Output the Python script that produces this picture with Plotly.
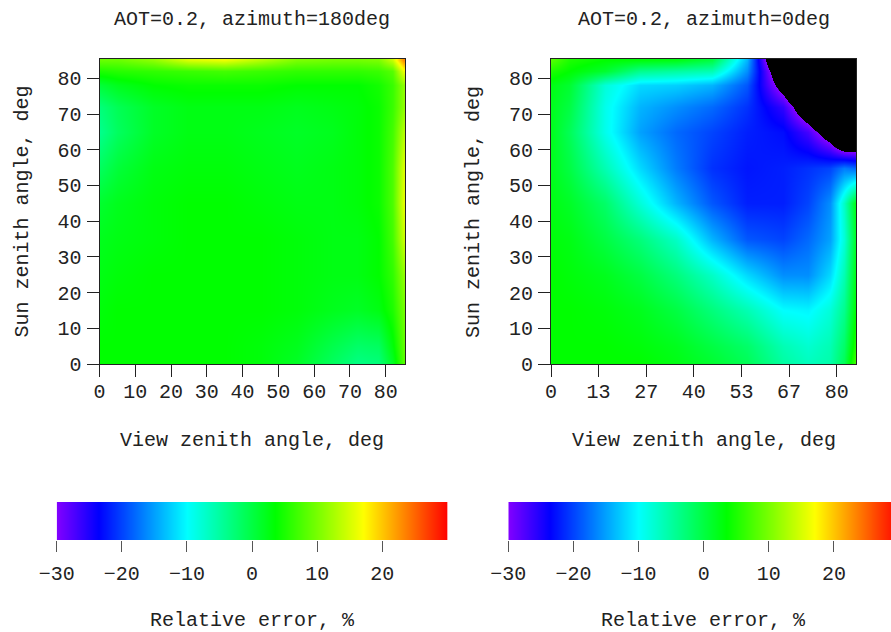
import plotly.graph_objects as go

# ---------------- data ----------------
VZA = [0, 5, 15, 25, 35, 45, 55, 65, 72, 78, 82, 85]   # view zenith angle, deg (columns)
SZA = [0, 5, 15, 25, 35, 45, 55, 65, 72, 78, 82, 85]   # sun zenith angle, deg (rows)

# relative error, %, azimuth = 180 deg (rows: SZA ascending)
ERR_AZ180 = [
    [3.5, 3.5, 3.5, 3.5, 3.5, 3.0, 1.5, -1.5, -3.5, -3.0, 1.5, 8.0],
    [3.5, 3.5, 3.5, 3.5, 3.5, 3.0, 2.0, -0.5, -2.0, -1.5, 3.0, 8.5],
    [3.0, 3.5, 3.5, 3.5, 3.5, 3.5, 3.0, 2.0, 1.5, 2.5, 5.0, 9.5],
    [2.5, 3.0, 3.5, 3.5, 3.5, 3.5, 3.0, 2.5, 2.5, 3.5, 6.0, 11.0],
    [2.0, 2.5, 3.0, 3.5, 3.5, 3.5, 3.0, 2.5, 2.5, 3.5, 7.0, 14.0],
    [1.0, 2.0, 3.0, 3.5, 3.5, 3.0, 2.5, 2.5, 3.0, 4.0, 7.5, 15.5],
    [-1.5, 0.5, 2.5, 3.0, 3.0, 2.5, 2.0, 2.5, 3.0, 4.0, 7.5, 15.0],
    [-4.0, -1.5, 1.5, 2.5, 2.5, 2.0, 1.5, 2.0, 3.0, 4.0, 7.0, 13.0],
    [-3.0, -1.0, 1.5, 2.5, 2.5, 2.5, 2.0, 2.5, 3.0, 4.0, 6.5, 11.0],
    [0.5, 2.0, 3.5, 4.0, 4.0, 4.0, 3.5, 3.5, 3.5, 4.5, 6.5, 11.0],
    [5.0, 5.5, 6.0, 6.5, 7.0, 6.5, 6.0, 6.0, 6.0, 6.5, 8.0, 16.0],
    [9.0, 9.0, 11.0, 15.0, 16.0, 13.0, 10.0, 9.5, 9.5, 10.0, 14.0, 23.0],
]

# relative error, %, azimuth = 0 deg (values below -30 are shown black)
ERR_AZ0 = [
    [3.5, 3.5, 3.5, 3.5, 2.5, 1.0, -1.0, -5.0, -6.5, -5.5, -1.0, 7.0],
    [3.5, 3.5, 3.5, 3.0, 2.0, 0.0, -2.0, -6.0, -7.5, -6.0, -2.0, 5.0],
    [3.5, 3.5, 3.0, 2.0, 0.0, -3.0, -6.0, -10.0, -10.5, -8.0, -4.0, 3.0],
    [3.5, 3.0, 2.0, 0.0, -3.0, -7.0, -12.0, -16.0, -16.0, -12.0, -6.0, 2.0],
    [3.0, 2.5, 0.0, -3.0, -7.0, -14.0, -19.0, -20.0, -18.0, -15.0, -8.0, 1.0],
    [2.5, 1.5, -2.0, -8.0, -14.0, -19.0, -22.0, -22.0, -20.0, -16.0, -7.0, 2.0],
    [2.0, 0.0, -6.0, -12.0, -17.0, -21.0, -22.5, -22.0, -21.0, -20.0, -17.0, -18.0],
    [2.0, -1.0, -9.0, -15.0, -18.0, -20.0, -22.0, -23.0, -27.0, -34.0, -45.0, -45.0],
    [2.0, 0.0, -9.0, -14.0, -16.0, -18.0, -21.0, -26.0, -36.0, -50.0, -50.0, -50.0],
    [2.5, 1.0, -8.0, -12.0, -12.5, -14.0, -19.0, -33.0, -45.0, -50.0, -50.0, -50.0],
    [5.0, 3.5, 1.0, -4.0, -5.0, -6.0, -16.0, -38.0, -50.0, -50.0, -50.0, -50.0],
    [8.0, 5.0, 3.5, 3.0, 2.5, 0.0, -14.0, -45.0, -50.0, -50.0, -50.0, -50.0],
]

TITLES = ["AOT=0.2, azimuth=180deg", "AOT=0.2, azimuth=0deg"]
X_TITLE = "View zenith angle, deg"
Y_TITLE = "Sun zenith angle, deg"
CB_TITLE = "Relative error, %"

X_TICKS_LEFT = [0, 10, 20, 30, 40, 50, 60, 70, 80]
X_TICKS_RIGHT = [0, 13.333, 26.667, 40, 53.333, 66.667, 80]
X_TICKTEXT_RIGHT = ["0", "13", "27", "40", "53", "67", "80"]
Y_TICKS = [0, 10, 20, 30, 40, 50, 60, 70, 80]
CB_TICKS = [-30, -20, -10, 0, 10, 20]
CB_VALUES = [-30, -20, -10, 0, 10, 20, 30]

# ---------------- styling ----------------
W, H = 891, 632
FONT = "Liberation Mono, Courier New, monospace"
ZMIN, ZMAX = -40, 30


def pos(v):
    return (v - ZMIN) / (ZMAX - ZMIN)


COLORSCALE = [
    [0.0, "rgb(0,0,0)"],
    [pos(-30.02), "rgb(0,0,0)"],
    [pos(-30), "rgb(130,0,255)"],
    [pos(-23.6), "rgb(0,0,255)"],
    [pos(-10), "rgb(0,255,255)"],
    [pos(3.5), "rgb(0,255,0)"],
    [pos(17), "rgb(255,255,0)"],
    [1.0, "rgb(255,0,0)"],
]


def px_x(p):
    return p / W


def px_y(p):
    return 1 - p / H


fig = go.Figure()

common_hm = dict(colorscale=COLORSCALE, zmin=ZMIN, zmax=ZMAX, zsmooth="best",
                 showscale=False, hoverinfo="skip")

fig.add_trace(go.Heatmap(x=VZA, y=SZA, z=ERR_AZ180, xaxis="x", yaxis="y", **common_hm))
fig.add_trace(go.Heatmap(x=VZA, y=SZA, z=ERR_AZ0, xaxis="x2", yaxis="y2", **common_hm))
# colour bars drawn as gradient strips on their own axes
fig.add_trace(go.Heatmap(x=CB_VALUES, y=[0], z=[CB_VALUES], xaxis="x3", yaxis="y3", **common_hm))
fig.add_trace(go.Heatmap(x=CB_VALUES, y=[0], z=[CB_VALUES], xaxis="x4", yaxis="y4", **common_hm))

tickfont = dict(family=FONT, size=20, color="#222")
main_ax = dict(range=[0, 85.4], showgrid=False, zeroline=False, showline=True,
               linecolor="#222", linewidth=1, mirror=True, ticks="outside",
               ticklen=12, tickwidth=1, tickcolor="#222", tickfont=tickfont)

plot_top, plot_bot = 59, 364
ydom = [px_y(plot_bot), px_y(plot_top)]

cb_ax = dict(showgrid=False, zeroline=False, showline=False, ticks="outside",
             ticklen=11, tickwidth=1, tickcolor="#555", tickfont=tickfont,
             tickvals=CB_TICKS, ticklabelstandoff=4)
cb_yax = dict(visible=False, range=[-0.5, 0.5], showgrid=False, zeroline=False)
cb_ydom = [px_y(540), px_y(502)]

CB_SCALE = 65.13 / 10.0  # px per unit of the colour bar
cb_left_start = 56.7
cb_right_start = 508.3

fig.update_layout(
    width=W, height=H,
    margin=dict(l=0, r=0, t=0, b=0, autoexpand=False),
    paper_bgcolor="white", plot_bgcolor="white",
    showlegend=False,
    font=dict(family=FONT, size=20, color="#222"),
    xaxis=dict(domain=[px_x(99.5), px_x(405)], anchor="y", tickvals=X_TICKS_LEFT,
               ticklabelstandoff=-3, **main_ax),
    yaxis=dict(domain=ydom, anchor="x", tickvals=Y_TICKS, ticklabelstandoff=1, **main_ax),
    xaxis2=dict(domain=[px_x(551), px_x(856)], anchor="y2", tickvals=X_TICKS_RIGHT,
                ticktext=X_TICKTEXT_RIGHT, ticklabelstandoff=-3, **main_ax),
    yaxis2=dict(domain=ydom, anchor="x2", tickvals=Y_TICKS, ticklabelstandoff=1, **main_ax),
    xaxis3=dict(domain=[px_x(cb_left_start), px_x(cb_left_start + 60 * CB_SCALE)],
                anchor="y3", range=[-30, 30], **cb_ax),
    yaxis3=dict(domain=cb_ydom, anchor="x3", **cb_yax),
    xaxis4=dict(domain=[px_x(cb_right_start), 1.0], anchor="y4",
                range=[-30, -30 + (W - cb_right_start) / CB_SCALE], **cb_ax),
    yaxis4=dict(domain=cb_ydom, anchor="x4", **cb_yax),
)

ann_font = dict(family=FONT, size=20, color="#222")
left_c, right_c = 252.25, 703.5
anns = [
    (left_c, 19.5, TITLES[0], 0),
    (right_c, 19.5, TITLES[1], 0),
    (left_c, 440, X_TITLE, 0),
    (right_c, 440, X_TITLE, 0),
    (22, 211.5, Y_TITLE, -90),
    (473.5, 211.5, Y_TITLE, -90),
    (252, 620.5, CB_TITLE, 0),
    (703, 620.5, CB_TITLE, 0),
]
for x, y, t, rot in anns:
    fig.add_annotation(x=px_x(x), y=px_y(y), xref="paper", yref="paper", text=t,
                       showarrow=False, xanchor="center", yanchor="middle",
                       textangle=rot, font=ann_font, borderpad=0)

fig.write_html("out.html")
